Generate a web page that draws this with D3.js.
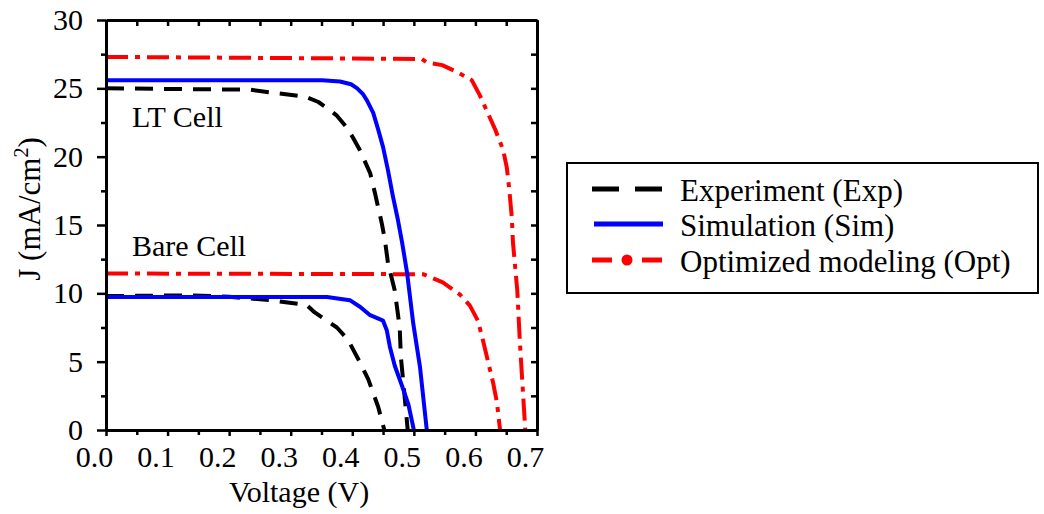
<!DOCTYPE html>
<html>
<head>
<meta charset="utf-8">
<script src="https://cdn.jsdelivr.net/npm/d3@7"></script>
<style>
  html, body { margin: 0; padding: 0; background: #fff; }
  svg { display: block; }
  text { font-family: "Liberation Serif", "Times New Roman", serif; fill: #000; }
</style>
</head>
<body>
<svg id="chart" width="1044" height="514"></svg>
<script>
// ---------- data (voltage V, current density mA/cm2) ----------
const xMajorTicks = [0, 0.1, 0.2, 0.3, 0.4, 0.5, 0.6, 0.7];
const yMajorTicks = [0, 5, 10, 15, 20, 25, 30];

const ltExp = [[0,25.0],[0.234,24.9],[0.266,24.7],[0.323,24.4],[0.345,24.0],[0.364,23.4],[0.375,23.0],[0.390,22.2],[0.401,21.4],[0.412,20.5],[0.429,18.8],[0.437,17.3],[0.448,15.1],[0.453,13.9],[0.458,12.2],[0.469,10.2],[0.477,7.5],[0.479,5.3],[0.482,3.9],[0.487,1.5],[0.490,0]];
const ltSim = [[0,25.6],[0.351,25.6],[0.380,25.5],[0.398,25.3],[0.408,25.0],[0.417,24.6],[0.424,24.1],[0.434,23.2],[0.442,22.0],[0.450,20.7],[0.458,19.0],[0.466,17.1],[0.474,15.4],[0.481,13.7],[0.489,11.5],[0.499,7.8],[0.510,4.6],[0.521,0]];
const ltOpt = [[0,27.3],[0.513,27.15],[0.521,26.9],[0.546,26.7],[0.570,26.2],[0.594,25.6],[0.607,24.5],[0.620,23.2],[0.632,22.0],[0.645,20.5],[0.651,19.2],[0.655,17.6],[0.659,15.6],[0.661,13.7],[0.668,10.2],[0.672,6.6],[0.677,2.9],[0.681,0]];

const bareExp = [[0,9.8],[0.14,9.85],[0.2,9.75],[0.266,9.5],[0.326,9.15],[0.339,8.6],[0.375,7.5],[0.393,6.6],[0.413,4.9],[0.426,3.7],[0.442,1.7],[0.452,0]];
const bareSim = [[0,9.73],[0.359,9.73],[0.396,9.5],[0.413,9.0],[0.429,8.4],[0.450,8.0],[0.456,7.3],[0.461,6.1],[0.469,4.7],[0.481,3.2],[0.491,1.9],[0.500,0]];
const bareOpt = [[0,11.45],[0.515,11.4],[0.526,11.2],[0.547,10.8],[0.575,9.9],[0.591,9.1],[0.604,8.0],[0.612,6.6],[0.620,5.1],[0.629,3.4],[0.635,2.0],[0.640,0]];

const legendLabels = ["Experiment (Exp)", "Simulation (Sim)", "Optimized modeling (Opt)"];
const cellLabels = ["LT Cell", "Bare Cell"];

// ---------- layout ----------
const svg = d3.select("#chart");
const x = d3.scaleLinear().domain([0, 0.7]).range([106, 537]);
const y = d3.scaleLinear().domain([0, 30]).range([430, 20]);
const xMinor = d3.range(0.05, 0.7, 0.1);
const yMinor = d3.range(2.5, 30, 5);
const xAllTicks = d3.range(0, 0.7001, 0.05);
const yAllTicks = d3.range(0, 30.001, 2.5);

const styles = {
  exp: { color: "#000", dash: "18,11", width: 4 },
  sim: { color: "#0000ff", dash: null, width: 4 },
  opt: { color: "#ff0000", dash: "22,7,5,7", width: 4 }
};

// ---------- curves ----------
const line = d3.line().x(d => x(d[0])).y(d => y(d[1])).curve(d3.curveLinear);
const series = [
  { data: ltOpt, s: styles.opt }, { data: bareOpt, s: styles.opt },
  { data: ltExp, s: styles.exp }, { data: bareExp, s: styles.exp },
  { data: ltSim, s: styles.sim }, { data: bareSim, s: styles.sim }
];
svg.append("g").selectAll("path").data(series).join("path")
  .attr("d", d => line(d.data))
  .attr("fill", "none")
  .attr("stroke", d => d.s.color)
  .attr("stroke-width", d => d.s.width)
  .attr("stroke-linejoin", "round")
  .attr("stroke-dasharray", d => d.s.dash);

// ---------- axes ----------
function styleAxis(g) {
  g.selectAll("path.domain").attr("stroke", "#000").attr("stroke-width", 3);
  g.selectAll(".tick line").attr("stroke", "#000").attr("stroke-width", 2.5);
  g.selectAll(".tick text").attr("font-family", "Liberation Serif").attr("font-size", 30).attr("fill", "#000");
}

// bottom minor + major
svg.append("g").attr("transform", "translate(0,430)")
  .call(d3.axisBottom(x).tickValues(xMinor).tickSize(5).tickSizeOuter(0).tickFormat(""))
  .call(styleAxis);
const gxb = svg.append("g").attr("transform", "translate(0,430)")
  .call(d3.axisBottom(x).tickValues(xMajorTicks).tickSize(6).tickSizeOuter(0).tickFormat(d3.format(".1f")))
  .call(styleAxis);
gxb.selectAll(".tick text").attr("y", 37).attr("dy", 0).attr("dx", -12);

// top inward
svg.append("g").attr("transform", "translate(0,20)")
  .call(d3.axisTop(x).tickValues(xAllTicks).tickSize(-6).tickSizeOuter(0).tickFormat(""))
  .call(styleAxis);

// left minor + major
svg.append("g").attr("transform", "translate(106,0)")
  .call(d3.axisLeft(y).tickValues(yMinor).tickSize(5).tickSizeOuter(0).tickFormat(""))
  .call(styleAxis);
svg.append("g").attr("transform", "translate(106,0)")
  .call(d3.axisLeft(y).tickValues(yMajorTicks).tickSize(9).tickPadding(14).tickSizeOuter(0).tickFormat(d3.format("d")))
  .call(styleAxis);

// right inward
svg.append("g").attr("transform", "translate(537,0)")
  .call(d3.axisRight(y).tickValues(yAllTicks).tickSize(-6).tickSizeOuter(0).tickFormat(""))
  .call(styleAxis);

// ---------- titles ----------
svg.append("text").attr("x", 299).attr("y", 502).attr("text-anchor", "middle")
  .attr("font-size", 30).text("Voltage (V)");

const yt = svg.append("text").attr("transform", "translate(40,209) rotate(-90)")
  .attr("text-anchor", "middle").attr("font-size", 31);
yt.append("tspan").text("J (mA/cm");
yt.append("tspan").attr("font-size", 20).attr("dy", -12).text("2");
yt.append("tspan").attr("dy", 12).text(")");

// cell labels
svg.append("text").attr("x", 132).attr("y", 127).attr("font-size", 30).text(cellLabels[0]);
svg.append("text").attr("x", 132).attr("y", 256).attr("font-size", 30).text(cellLabels[1]);

// ---------- legend ----------
const lg = svg.append("g");
lg.append("rect").attr("x", 567).attr("y", 163).attr("width", 471).attr("height", 130)
  .attr("fill", "#fff").attr("stroke", "#000").attr("stroke-width", 2);
const legendKeys = [styles.exp, styles.sim, styles.opt];
const legendY = [189, 224, 260];
legendKeys.forEach((s, i) => {
  const ly = legendY[i];
  if (i === 0) {
    lg.append("line").attr("x1", 592).attr("x2", 619).attr("y1", ly).attr("y2", ly).attr("stroke", s.color).attr("stroke-width", 5);
    lg.append("line").attr("x1", 635).attr("x2", 662).attr("y1", ly).attr("y2", ly).attr("stroke", s.color).attr("stroke-width", 5);
  } else if (i === 1) {
    lg.append("line").attr("x1", 594).attr("x2", 663).attr("y1", ly).attr("y2", ly).attr("stroke", s.color).attr("stroke-width", 5);
  } else {
    lg.append("line").attr("x1", 592).attr("x2", 612).attr("y1", ly).attr("y2", ly).attr("stroke", s.color).attr("stroke-width", 5);
    lg.append("circle").attr("cx", 627).attr("cy", ly).attr("r", 5.5).attr("fill", s.color);
    lg.append("line").attr("x1", 642).attr("x2", 662).attr("y1", ly).attr("y2", ly).attr("stroke", s.color).attr("stroke-width", 5);
  }
  lg.append("text").attr("x", 680).attr("y", ly + 12).attr("font-size", 31).text(legendLabels[i]);
});
</script>
</body>
</html>
